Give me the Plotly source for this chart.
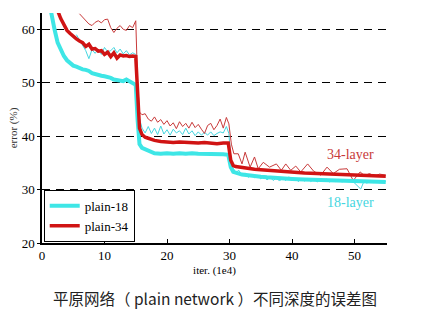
import plotly.graph_objects as go

# plain-18 training error (thick cyan)
train18_x = [1.0, 1.5, 2, 2.5, 3, 3.5, 4, 4.5, 5, 5.5, 6, 6.5, 7, 7.5, 8, 8.5, 9, 9.5, 10, 10.5,
             11, 11.5, 12, 12.5, 13, 13.5, 14, 14.5, 15, 15.3, 15.6, 16, 17, 18, 19, 20, 21, 22, 23,
             24, 25, 26, 27, 28, 29, 29.8, 30.2, 30.6, 31, 32, 33, 34, 35, 36, 38, 40, 42, 44, 46,
             48, 50, 52, 55]
train18_y = [66, 62.5, 60, 57.5, 56, 55, 54.2, 53.6, 53.2, 53, 52.7, 52.5, 52.4, 52.2, 51.8, 51.6,
             51.5, 51.3, 51.2, 51.1, 50.9, 50.6, 50.5, 50.5, 50.3, 50.6, 50.2, 49.9, 49.6, 43, 38.5,
             37.8, 37.2, 36.8, 36.7, 36.8, 36.7, 36.8, 36.7, 36.8, 36.7, 36.7, 36.6, 36.7, 36.6,
             36.5, 34.2, 33.3, 33.1, 32.8, 32.7, 32.5, 32.4, 32.3, 32.1, 32.0, 31.9, 31.8, 31.7,
             31.6, 31.5, 31.5, 31.4]

# plain-34 training error (thick red)
train34_x = [1.5, 2.5, 3, 3.5, 4, 4.5, 5, 5.5, 6, 6.5, 7, 7.5, 8, 8.5, 9, 9.5, 10, 10.5, 11, 11.5,
             12, 12.5, 13, 13.5, 14, 14.5, 15, 15.3, 15.6, 16, 16.5, 17, 18, 19, 20, 21, 22, 23, 24,
             25, 26, 27, 28, 29, 29.8, 30.2, 30.6, 31, 32, 33, 34, 35, 36, 38, 40, 42, 44, 46, 48,
             50, 52, 55]
train34_y = [68, 63.5, 62, 60.8, 59.8, 59.2, 58.6, 58.2, 57.8, 57.5, 56.8, 57.2, 56.3, 56.4, 55.9,
             56.0, 55.3, 55.7, 54.9, 55.6, 54.6, 55.2, 55.0, 55.1, 54.9, 55.0, 54.9, 47, 41.5, 40.3,
             39.8, 39.6, 39.2, 39.0, 38.9, 38.8, 38.9, 38.8, 38.8, 38.7, 38.8, 38.7, 38.6, 38.7,
             38.7, 35.5, 34.5, 34.3, 34.1, 33.9, 33.8, 33.7, 33.6, 33.4, 33.2, 33.1, 33.0, 32.9,
             32.8, 32.7, 32.6, 32.5]

# plain-18 validation error (thin cyan)
val18_x = [5.5, 6, 6.5, 7, 7.5, 8, 8.5, 9, 9.5, 10, 10.5, 11, 11.5, 12, 12.5, 13, 13.5, 14, 14.5,
           15, 15.3, 15.6, 16, 16.5, 17, 17.5, 18, 18.5, 19, 19.5, 20, 20.5, 21, 21.5, 22, 22.5,
           23, 23.5, 24, 24.5, 25, 25.5, 26, 26.5, 27, 27.5, 28, 28.5, 29, 29.5, 29.9, 30.3, 30.7,
           31, 31.5, 32, 32.5, 33, 33.5, 34, 34.5, 35, 35.5, 36, 36.5, 37, 37.5, 38, 38.5, 39,
           39.5, 40, 40.5, 41, 41.5, 42, 42.5, 43, 43.5, 44, 44.5, 45, 45.5, 46, 46.5, 47, 47.5,
           48, 48.5, 49, 49.5, 50, 50.5, 51, 51.5, 52, 52.5, 53, 53.5, 54, 55]
val18_y = [59.0, 58.0, 57.0, 56.0, 54.5, 56.2, 55.5, 56.3, 55.3, 56.6, 55.8, 56.0, 56.6, 55.6, 56.3,
           55.4, 56.0, 55.2, 55.6, 55.3, 46, 43.3, 41.5, 40.6, 41.8, 40.5, 41.5, 40.3, 41.9, 40.4,
           41.2, 40.2, 41.3, 40.6, 41.0, 40.3, 41.5, 40.4, 41.0, 40.1, 40.8, 40.2, 40.7, 40.2,
           40.8, 40.1, 40.5, 40.8, 40.6, 41.8, 40.5, 34.5, 33.8, 33.2, 33.6, 32.7, 33.1, 32.3,
           32.8, 32.2, 32.6, 32.0, 32.5, 31.8, 32.3, 31.7, 32.2, 31.6, 32.2, 31.7, 32.4, 31.7,
           32.1, 31.5, 32.0, 31.6, 32.1, 31.5, 32.0, 31.4, 31.9, 31.6, 32.0, 31.4, 31.9, 31.5,
           31.9, 31.4, 31.8, 31.5, 31.8, 31.2, 30.8, 30.1, 31.5, 31.2, 31.7, 31.3, 31.6, 31.3,
           31.5]

# plain-34 validation error (thin red)
val34_x = [6, 6.5, 7, 7.5, 8, 8.5, 9, 9.5, 10, 10.5, 11, 11.5, 12, 12.5, 13, 13.5, 14, 14.5, 15,
           15.3, 15.6, 16, 16.5, 17, 17.5, 18, 18.5, 19, 19.5, 20, 20.5, 21, 21.5, 22, 22.5, 23,
           23.5, 24, 24.5, 25, 25.5, 26, 26.5, 27, 27.5, 28, 28.5, 29, 29.5, 29.9, 30.3, 30.7,
           31.4, 32, 32.5, 33.3, 34, 34.6, 35.4, 36.4, 37.5, 38.3, 39.0, 39.8, 40.6, 41.4, 42.5,
           43.5, 44.6, 45.6, 46.6, 47.6, 48.8, 49.8, 50.9, 51.6, 52.4, 53.2, 54, 55]
val34_y = [62.9, 62.3, 61.8, 61.0, 60.7, 61.3, 61.6, 61.2, 61.8, 61.9, 60.3, 59.4, 60.2, 60.7, 60.0,
           59.8, 60.7, 60.3, 61.6, 50, 44.5, 44.0, 44.2, 43.2, 42.8, 43.6, 42.6, 43.1, 42.2, 42.9,
           41.9, 42.5, 41.4, 42.7, 41.8, 42.4, 41.5, 42.6, 41.6, 42.2, 41.3, 40.5, 42.0, 42.4,
           41.2, 42.0, 43.2, 41.5, 43.5, 42.3, 38.5, 36.7, 36.7, 34.8, 37.0, 34.2, 36.1, 33.9,
           35.1, 34.2, 34.8, 33.6, 34.8, 33.6, 34.4, 33.3, 34.8, 33.4, 32.7, 34.2, 33.0, 33.8,
           33.9, 31.7, 33.3, 32.6, 33.0, 32.5, 32.9, 32.7]

x_ticks = [0, 10, 20, 30, 40, 50]
y_ticks = [20, 30, 40, 50, 60]

CYAN = "#3EE6E6"
CYAN_THIN = "#45D6E0"
RED = "#D01414"
RED_THIN = "#C83A3A"

fig = go.Figure()
fig.add_trace(go.Scatter(x=val18_x, y=val18_y, mode="lines", line=dict(color=CYAN_THIN, width=1),
                         showlegend=False, hoverinfo="skip"))
fig.add_trace(go.Scatter(x=val34_x, y=val34_y, mode="lines", line=dict(color=RED_THIN, width=1),
                         showlegend=False, hoverinfo="skip"))
fig.add_trace(go.Scatter(x=train18_x, y=train18_y, mode="lines", name="plain-18",
                         line=dict(color=CYAN, width=4)))
fig.add_trace(go.Scatter(x=train34_x, y=train34_y, mode="lines", name="plain-34",
                         line=dict(color=RED, width=3.5)))

serif = "Liberation Serif"
fig.update_layout(
    width=421, height=333,
    margin=dict(l=37, r=34, t=13, b=90),
    plot_bgcolor="white", paper_bgcolor="white",
    font=dict(family=serif, color="black", size=13),
    xaxis=dict(range=[0, 55.2], tickvals=x_ticks, showgrid=False, zeroline=False,
               showline=True, linecolor="black", linewidth=1.5,
               ticks="inside", ticklen=4, tickcolor="black",
               tickfont=dict(family=serif, size=13),
               title=dict(text="iter. (1e4)", font=dict(family=serif, size=11), standoff=4)),
    yaxis=dict(range=[20, 63.05], tickvals=y_ticks, showgrid=True, gridcolor="black",
               griddash="8px,6px", gridwidth=1, zeroline=False,
               showline=True, linecolor="black", linewidth=1.5,
               ticks="outside", ticklen=3, tickcolor="black",
               tickfont=dict(family=serif, size=13),
               title=dict(text="error (%)", font=dict(family=serif, size=11, color="#333"), standoff=2)),
    legend=dict(x=0.005, y=0.005, xanchor="left", yanchor="bottom",
                bgcolor="white", bordercolor="black", borderwidth=1,
                font=dict(family=serif, size=13), itemwidth=30, tracegroupgap=0),
    annotations=[
        dict(x=49.3, y=36.5, xref="x", yref="y", text="34-layer", showarrow=False,
             font=dict(family=serif, size=14, color="#C83A3A")),
        dict(x=49.3, y=27.6, xref="x", yref="y", text="18-layer", showarrow=False,
             font=dict(family=serif, size=14, color="#45D6E0")),
        dict(x=(213 - 37) / 350, y=-(298 - 243) / 230, xref="paper", yref="paper",
             xanchor="center", yanchor="middle",
             text="平原网络（ plain network ）不同深度的误差图",
             showarrow=False, font=dict(family="Noto Sans CJK SC", size=15.5, color="#222")),
    ],
)

fig.write_html("out.html")
